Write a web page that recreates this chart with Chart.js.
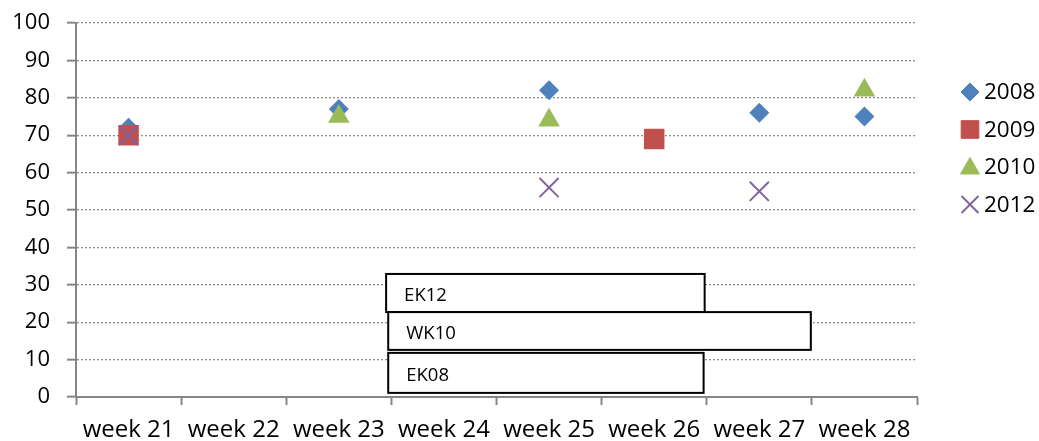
<!DOCTYPE html>
<html>
<head>
<meta charset="utf-8">
<script src="https://cdn.jsdelivr.net/npm/chart.js@4"></script>
<style>
  body { margin: 0; background: #fff; }
  #wrap { width: 1039px; height: 441px; }
</style>
</head>
<body>
<div id="wrap"><canvas id="grafik" width="1039" height="441"></canvas></div>
<script>
// categories and series (null = no mark that week)
var weeks = ["week 21", "week 22", "week 23", "week 24", "week 25", "week 26", "week 27", "week 28"];
var y2008 = [72, null, 77, null, 82, null, 76, 75];
var y2009 = [70, null, null, null, null, 69, null, null];
var y2010 = [null, null, 75, null, 74, null, null, 82];
var y2012 = [70, null, null, null, 56, null, 55, null];
var yTicks = [0, 10, 20, 30, 40, 50, 60, 70, 80, 90, 100];

// text boxes on the chart (x in category index, y in axis units)
var boxLabels = ["EK12", "WK10", "EK08"];
var boxFrom = [2.45, 2.47, 2.47];
var boxTo = [5.48, 6.49, 5.47];
var boxTop = [32.9, 22.7, 11.8];
var boxBottom = [22.7, 12.6, 1.1];

var fontName = "'Open Sans', 'Noto Sans', sans-serif";
var eksenRengi = "#868686";

function seri(label, data, style, color, radius, order) {
  return {
    label: label,
    data: data,
    showLine: false,
    pointStyle: style,
    pointRadius: radius,
    pointHoverRadius: radius,
    backgroundColor: color,
    borderColor: color,
    pointBorderWidth: style === "crossRot" ? 2 : 0,
    order: order
  };
}

/* kutular */
var kutuPlugin = {
  id: "kutular",
  afterDatasetsDraw: function (chart) {
    var ctx = chart.ctx;
    var xs = chart.scales.x, ys = chart.scales.y;
    ctx.save();
    for (var i = 0; i < boxLabels.length; i++) {
      var x1 = xs.getPixelForValue(boxFrom[i]);
      var x2 = xs.getPixelForValue(boxTo[i]);
      var y1 = ys.getPixelForValue(boxTop[i]);
      var y2 = ys.getPixelForValue(boxBottom[i]);
      ctx.fillStyle = "#fff";
      ctx.fillRect(x1, y1, x2 - x1, y2 - y1);
      ctx.strokeStyle = "#000";
      ctx.lineWidth = 2;
      ctx.strokeRect(x1, y1, x2 - x1, y2 - y1);
      ctx.fillStyle = "#000";
      ctx.font = "18.5px " + fontName;
      ctx.textBaseline = "middle";
      ctx.fillText(boxLabels[i], x1 + 18, (y1 + y2) / 2 + 3);
    }
    ctx.restore();
  }
};

/* lejant */
var lejantPlugin = {
  id: "lejant",
  afterDraw: function (chart) {
    var ctx = chart.ctx;
    ctx.save();
    var sets = chart.data.datasets;
    for (var i = 0; i < sets.length; i++) {
      var d = sets[i];
      var y = 92 + i * 37.5;
      ctx.fillStyle = d.backgroundColor;
      ctx.strokeStyle = d.borderColor;
      ctx.lineWidth = d.pointStyle === "crossRot" ? 2 : 0;
      var r = d.pointStyle === "rect" ? 12.5 : (d.pointStyle === "rectRot" ? 9 : (d.pointStyle === "triangle" ? 11 : 12));
      Chart.helpers.drawPoint(ctx, { pointStyle: d.pointStyle, radius: r, borderWidth: ctx.lineWidth, rotation: 0 }, 970, y + (d.pointStyle === "triangle" ? 1.5 : 0));
      ctx.fillStyle = "#000";
      ctx.font = "22.5px " + fontName;
      ctx.textBaseline = "middle";
      ctx.fillText(d.label, 984, y + 1);
    }
    ctx.restore();
  }
};

var ctx = document.getElementById("grafik");
var grafik = new Chart(ctx, {
  type: "line",
  data: {
    labels: weeks,
    datasets: [
      seri("2008", y2008, "rectRot", "#4F81BD", 10, 4),
      seri("2009", y2009, "rect", "#C0504D", 14.5, 3),
      seri("2010", y2010, "triangle", "#9BBB59", 12.5, 2),
      seri("2012", y2012, "crossRot", "#8064A2", 13.5, 1)
    ]
  },
  options: {
    responsive: false,
    animation: false,
    devicePixelRatio: 1,
    layout: { padding: { top: 23, right: 122, left: 0, bottom: 0 } },
    plugins: {
      legend: { display: false },
      tooltip: { enabled: false }
    },
    scales: {
      x: {
        offset: true,
        grid: {
          offset: true,
          drawOnChartArea: false,
          drawTicks: true,
          tickLength: 8,
          tickColor: eksenRengi,
          tickWidth: 2
        },
        border: { color: eksenRengi, width: 2 },
        ticks: { color: "#000", font: { family: fontName, size: 24 }, padding: 11, maxRotation: 0 },
        afterFit: function (s) { s.height = 44; s.paddingLeft = 0; s.paddingRight = 0; }
      },
      y: {
        min: 0,
        max: 100,
        afterBuildTicks: function (s) {
          s.ticks = yTicks.map(function (v) { return { value: v }; });
        },
        grid: {
          color: "#8c8c8c",
          lineWidth: 1.3,
          tickLength: 9,
          tickColor: eksenRengi,
          tickWidth: 2,
          tickBorderDash: []
        },
        border: { color: eksenRengi, width: 2, dash: [2, 2] },
        ticks: { color: "#000", font: { family: fontName, size: 22 }, padding: 17 },
        afterFit: function (s) { s.width = 76; s.paddingTop = 0; s.paddingBottom = 0; }
      }
    }
  },
  plugins: [kutuPlugin, lejantPlugin]
});
</script>
</body>
</html>
